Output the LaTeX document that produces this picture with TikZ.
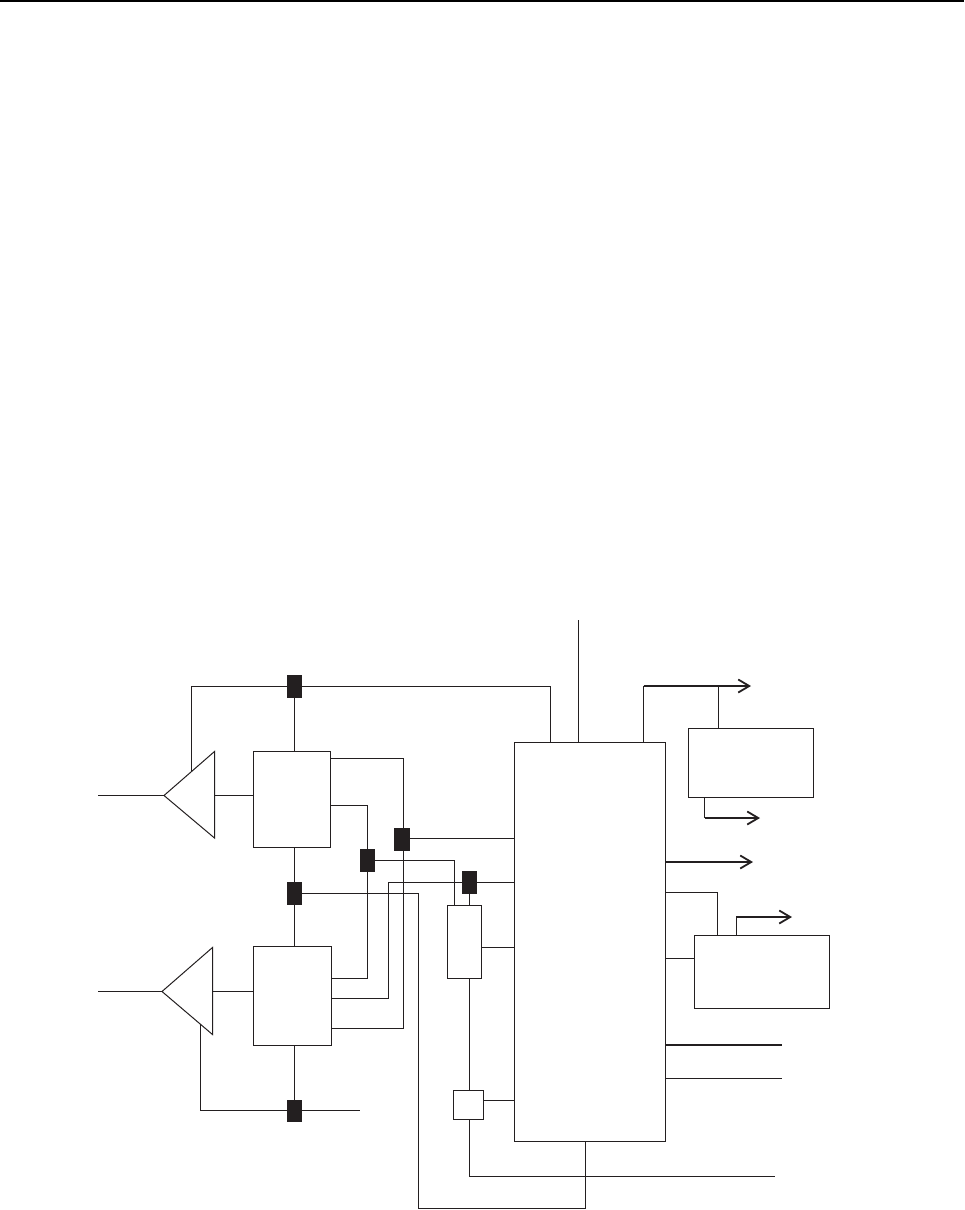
\documentclass[tikz,border=0pt]{standalone}
\usetikzlibrary{arrows.meta}
\definecolor{ink}{HTML}{231F20}
\newcommand{\rectnode}[6]{% style, name, x1, y1, x2, y2
  \pgfmathsetmacro{\rw}{(#5-#3)*0.5}\pgfmathsetmacro{\rh}{(#6-#4)*0.5}
  \pgfmathsetmacro{\rx}{(#3+#5)/2}\pgfmathsetmacro{\ry}{(#4+#6)/2}
  \node[#1,minimum width=\rw pt,minimum height=\rh pt] (#2) at (\rx,\ry) {};}
\tikzset{
  wire/.style={draw=ink,line width=0.5pt},
  bus/.style={draw=ink,line width=1pt},
  arrowwire/.style={wire,-{Straight Barb[length=5.5pt,width=6.5pt,line width=0.9pt]}},
  arrowbus/.style={bus,-{Straight Barb[length=5.5pt,width=6.5pt,line width=0.9pt]}},
  blockbox/.style={draw=ink,line width=0.6pt,fill=white,inner sep=0pt,outer sep=0pt,rectangle},
  tap/.style={draw=none,fill=ink,inner sep=0pt,outer sep=0pt,rectangle},
}
\begin{document}
\begin{tikzpicture}[x=0.5pt,y=-0.5pt]
\useasboundingbox (0,0) rectangle (964,1210);
\coordinate (ruleL) at (0,1); \coordinate (ruleR) at (964,1);
\draw[draw=black,line width=1pt] (ruleL) -- (ruleR);

% free ends
\coordinate (inU) at (98,795.5); \coordinate (inL) at (98,991.5);
\coordinate (tipU) at (164,795.5); \coordinate (topU) at (214.5,751.5); \coordinate (botU) at (214.5,838);
\coordinate (tipL) at (162,991.5); \coordinate (topL) at (212.5,947.5); \coordinate (botL) at (212.5,1034.5);
\coordinate (fbU) at (191.5,771); \coordinate (fbL) at (200.5,1024);
\coordinate (cOut) at (360,1110.5);
\coordinate (topIn) at (578.5,620);
\coordinate (o1) at (751,686); \coordinate (o2) at (760,818); \coordinate (o3) at (753,862);
\coordinate (o4) at (792,917); \coordinate (o5) at (782,1045); \coordinate (o6) at (782,1078.5);
\coordinate (o7) at (775,1176.5);

% blocks
\rectnode{blockbox}{U}{253.5}{751.5}{330.5}{847.5}
\rectnode{blockbox}{L}{253.5}{946.5}{331.5}{1045.5}
\rectnode{blockbox}{T}{447.5}{905.5}{481.5}{978.5}
\rectnode{blockbox}{S}{453.5}{1090.5}{483.5}{1119.5}
\rectnode{blockbox}{M}{514.5}{742.5}{665.5}{1141.5}
\rectnode{blockbox}{RA}{688.5}{728.5}{813.5}{797.5}
\rectnode{blockbox}{RB}{694.5}{935.5}{829.5}{1008.5}

% wires
\draw[wire] (inU) -- (tipU);
\draw[wire] (inL) -- (tipL);
\draw[wire] (tipU) -- (topU) -- (botU) -- cycle;
\draw[wire] (tipL) -- (topL) -- (botL) -- cycle;
\draw[wire] (botU |- tipU) -- (U.west |- tipU);
\draw[wire] (botL |- tipL) -- (L.west |- tipL);

\coordinate (A) at (294.5,686.5); \coordinate (B) at (294.5,893.5); \coordinate (C) at (294.5,1110.5);
\coordinate (D) at (367.5,860.5); \coordinate (E) at (402,838.5); \coordinate (F) at (469.5,882.5);

\draw[wire] (fbU) -- (fbU |- A) -- (550.5,686.5) -- (550.5,742.5);
\draw[wire] (A) -- (A |- U.north);
\draw[wire] (A |- U.south) -- (B);
\draw[wire] (B) -- (B |- L.north);
\draw[wire] (B |- L.south) -- (C);
\draw[wire] (fbL) -- (fbL |- C) -- (cOut);

\draw[wire] (330.5,758.5) -- (403.5,758.5) -- (403.5,1028.5) -- (331.5,1028.5);
\draw[wire] (330.5,805.5) -- (367.5,805.5) -- (367.5,978.5) -- (331.5,978.5);
\draw[wire] (331.5,998.5) -- (388.5,998.5) -- (388.5,882.5) -- (F);
\draw[wire] (F) -- (M.west |- F);
\draw[wire] (F) -- (F |- T.north);
\draw[wire] (E) -- (M.west |- E);
\draw[wire] (D) -- (454.5,860.5) -- (454.5,905.5);
\draw[wire] (T.east |- 0,947.5) -- (M.west |- 0,947.5);
\draw[wire] (F |- T.south) -- (F |- S.north);
\draw[wire] (S.east |- 0,1100.5) -- (M.west |- 0,1100.5);
\draw[wire] (F |- S.south) -- (F |- o7) -- (o7);
\draw[wire] (585.5,1141.5) -- (585.5,1208.5) -- (418.5,1208.5) -- (418.5,893.5) -- (B);
\draw[wire] (topIn) -- (topIn |- M.north);

% outputs
\draw[wire] (643.5,742.5) -- (643.5,686);
\draw[arrowbus] (643.5,686) -- (o1);
\draw[wire] (718.5,686) -- (718.5,728.5);
\draw[wire] (704.5,797.5) -- (704.5,818);
\draw[arrowwire,line width=0.75pt] (704.5,818) -- (o2);
\draw[arrowbus] (M.east |- o3) -- (o3);
\draw[wire] (665.5,892.5) -- (717.5,892.5) -- (717.5,935.5);
\draw[arrowwire,line width=0.75pt] (736.5,935.5) -- (736.5,917) -- (o4);
\draw[wire] (M.east |- 0,958.5) -- (RB.west |- 0,958.5);
\draw[bus] (M.east |- o5) -- (o5);
\draw[wire] (M.east |- o6) -- (o6);

% taps
\rectnode{tap}{tapA}{287}{675}{302}{698}
\rectnode{tap}{tapB}{287}{882}{302}{905}
\rectnode{tap}{tapC}{287}{1100}{302}{1122}
\rectnode{tap}{tapD}{360}{849}{375}{872}
\rectnode{tap}{tapE}{394}{828}{410}{851}
\rectnode{tap}{tapF}{462}{871}{477}{894}
\end{tikzpicture}
\end{document}
